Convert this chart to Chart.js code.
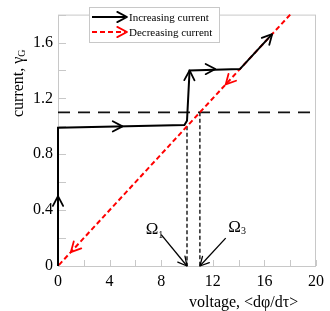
<!DOCTYPE html>
<html>
<head>
<meta charset="utf-8">
<style>
html,body{margin:0;padding:0;background:#fff;}
canvas{display:block;}
</style>
<script src="https://cdn.jsdelivr.net/npm/chart.js@4.4.1/dist/chart.umd.min.js"></script>
</head>
<body>
<canvas id="c" width="330" height="311"></canvas>
<script>
// ---- data ----
const incX = [0, 0, 9.8, 10.0, 10.2, 14.1, 16.6];
const incY = [0, 0.99, 1.01, 1.04, 1.40, 1.41, 1.66];
const decX = [18, 0];
const decY = [1.8, 0];
const thresholdX = [0, 20];
const thresholdY = [1.1, 1.1];
const omega1X = [10, 10];
const omega1Y = [1.0, 0];
const omega3X = [11, 11];
const omega3Y = [1.1, 0];
// arrowheads: tail point -> tip point
const incArrowFromX = [0, 4, 10.18, 11, 16.0];
const incArrowFromY = [0.4, 1.0, 1.3, 1.41, 1.6];
const incArrowToX = [0, 5, 10.2, 12.2, 16.6];
const incArrowToY = [0.5, 1.0, 1.40, 1.41, 1.66];
const decArrowFromX = [14, 2];
const decArrowFromY = [1.4, 0.2];
const decArrowToX = [13, 1];
const decArrowToY = [1.3, 0.1];
// Omega annotation labels and pointers
const omegaLabels = ['1', '3'];
const omegaLabelX = [6.8, 13.2];
const omegaLabelY = [0.23, 0.245];
const omegaPtrFromX = [8.0, 13.0];
const omegaPtrFromY = [0.225, 0.2];
const omegaPtrToX = [10, 11];
const omegaPtrToY = [0, 0];
const xTicks = [0, 4, 8, 12, 16, 20];
const yTicks = [0, 0.4, 0.8, 1.2, 1.6];
const legendLabels = ['Increasing current', 'Decreasing current'];

const pts = (xs, ys) => xs.map((x, i) => ({x: x, y: ys[i]}));
const SERIF = '"Liberation Serif", "Times New Roman", serif';

function chevron(ctx, x0, y0, x1, y1, len, color, lw) {
  const a = Math.atan2(y1 - y0, x1 - x0);
  const h = Math.PI / 6.5;
  ctx.save();
  ctx.setLineDash([]);
  ctx.strokeStyle = color;
  ctx.lineWidth = lw;
  ctx.lineCap = 'round';
  ctx.lineJoin = 'round';
  ctx.beginPath();
  ctx.moveTo(x1 - len * Math.cos(a - h), y1 - len * Math.sin(a - h));
  ctx.lineTo(x1, y1);
  ctx.lineTo(x1 - len * Math.cos(a + h), y1 - len * Math.sin(a + h));
  ctx.stroke();
  ctx.restore();
}

const framePlugin = {
  id: 'frame',
  beforeDatasetsDraw(chart) {
    const {ctx, chartArea: ca, scales} = chart;
    ctx.save();
    ctx.strokeStyle = '#c8c8c8';
    ctx.lineWidth = 1;
    ctx.strokeRect(ca.left + 0.5, ca.top + 0.5, ca.right - ca.left - 1, ca.bottom - ca.top);
    ctx.beginPath();
    scales.x.ticks.forEach(t => {
      const px = Math.round(scales.x.getPixelForValue(t.value)) + 0.5;
      ctx.moveTo(px, ca.bottom);
      ctx.lineTo(px, ca.bottom - 6);
    });
    scales.y.ticks.forEach(t => {
      const py = Math.round(scales.y.getPixelForValue(t.value)) + 0.5;
      ctx.moveTo(ca.left, py);
      ctx.lineTo(ca.left + 8, py);
    });
    ctx.stroke();
    ctx.restore();
  },
  afterDatasetsDraw(chart) {
    const {ctx, scales} = chart;
    const X = v => scales.x.getPixelForValue(v);
    const Y = v => scales.y.getPixelForValue(v);
    incArrowToX.forEach((_, i) => chevron(ctx, X(incArrowFromX[i]), Y(incArrowFromY[i]), X(incArrowToX[i]), Y(incArrowToY[i]), 11, '#000', 1.8));
    decArrowToX.forEach((_, i) => chevron(ctx, X(decArrowFromX[i]), Y(decArrowFromY[i]), X(decArrowToX[i]), Y(decArrowToY[i]), 11, '#ff0000', 1.8));
    // omega pointers
    omegaPtrToX.forEach((_, i) => {
      const x0 = X(omegaPtrFromX[i]), y0 = Y(omegaPtrFromY[i]);
      const x1 = X(omegaPtrToX[i]), y1 = Y(omegaPtrToY[i]);
      ctx.save();
      ctx.strokeStyle = '#000';
      ctx.lineWidth = 1.3;
      ctx.beginPath();
      ctx.moveTo(x0, y0);
      ctx.lineTo(x1, y1);
      ctx.stroke();
      ctx.restore();
      chevron(ctx, x0, y0, x1, y1, 10, '#000', 1.3);
    });
    // omega labels
    ctx.save();
    ctx.fillStyle = '#000';
    ctx.textBaseline = 'alphabetic';
    omegaLabels.forEach((s, i) => {
      const x = X(omegaLabelX[i]), y = Y(omegaLabelY[i]);
      ctx.font = '17px ' + SERIF;
      ctx.fillText('\u03A9', x, y);
      const w = ctx.measureText('\u03A9').width;
      ctx.font = '10px ' + SERIF;
      ctx.fillText(s, x + w, y + (i === 0 ? 4 : 2));
    });
    ctx.restore();
    // legend
    ctx.save();
    const lx = 89, ly = 7, lw = 130, lh = 35;
    ctx.fillStyle = '#fff';
    ctx.fillRect(lx, ly, lw, lh);
    ctx.strokeStyle = '#c8c8c8';
    ctx.lineWidth = 1;
    ctx.strokeRect(lx + 0.5, ly + 0.5, lw, lh);
    const rows = [{y: 17, color: '#000', dash: []}, {y: 32, color: '#ff0000', dash: [5, 3]}];
    rows.forEach((r, i) => {
      ctx.save();
      ctx.strokeStyle = r.color;
      ctx.lineWidth = 2;
      ctx.setLineDash(r.dash);
      ctx.beginPath();
      ctx.moveTo(92, r.y);
      ctx.lineTo(125, r.y);
      ctx.stroke();
      ctx.restore();
      chevron(ctx, 115, r.y, 127, r.y, 11, r.color, 1.8);
      ctx.fillStyle = '#000';
      ctx.font = '11px ' + SERIF;
      ctx.textBaseline = 'middle';
      ctx.fillText(legendLabels[i], 129, r.y + 1);
    });
    ctx.restore();
  },
  afterDraw(chart) {
    const {ctx} = chart;
    ctx.save();
    ctx.fillStyle = '#000';
    ctx.font = '16px ' + SERIF;
    ctx.textBaseline = 'alphabetic';
    ctx.textAlign = 'left';
    ctx.fillText('voltage, <d\u03C6/d\u03C4>', 189, 307);
    // y title rotated with subscript
    ctx.translate(23, 117);
    ctx.rotate(-Math.PI / 2);
    ctx.fillText('current, \u03B3', 0, 0);
    const w = ctx.measureText('current, \u03B3').width;
    ctx.font = '10px ' + SERIF;
    ctx.fillText('G', w, 2);
    ctx.restore();
  }
};

new Chart(document.getElementById('c'), {
  type: 'scatter',
  data: {
    datasets: [
      {data: pts(incX, incY), showLine: true, borderColor: '#000', borderWidth: 2, pointRadius: 0, fill: false, tension: 0, clip: false},
      {data: pts(decX, decY), showLine: true, borderColor: '#ff0000', borderWidth: 2, borderDash: [5, 3], pointRadius: 0, fill: false, clip: false},
      {data: pts(thresholdX, thresholdY), showLine: true, borderColor: '#111', borderWidth: 1.6, borderDash: [12, 8], pointRadius: 0, fill: false, clip: false},
      {data: pts(omega1X, omega1Y), showLine: true, borderColor: '#000', borderWidth: 1.3, borderDash: [4, 2.5], pointRadius: 0, fill: false, clip: false},
      {data: pts(omega3X, omega3Y), showLine: true, borderColor: '#000', borderWidth: 1.3, borderDash: [4, 2.5], pointRadius: 0, fill: false, clip: false}
    ]
  },
  options: {
    responsive: false,
    animation: false,
    events: [],
    layout: {padding: {top: 2, right: 9, left: 0, bottom: 0}},
    plugins: {legend: {display: false}, tooltip: {enabled: false}},
    scales: {
      x: {
        type: 'linear', min: 0, max: 20,
        afterFit: s => { s.height = 45; },
        ticks: {
          stepSize: 2, padding: 6, color: '#000', maxRotation: 0, autoSkip: false,
          font: {family: SERIF, size: 16},
          callback: v => xTicks.includes(Math.round(v)) && Math.abs(v - Math.round(v)) < 1e-6 ? String(Math.round(v)) : ''
        },
        grid: {display: true, drawOnChartArea: false, drawTicks: false, color: 'rgba(0,0,0,0)'},
        border: {display: false}
      },
      y: {
        type: 'linear', min: 0, max: 1.8,
        afterFit: s => { s.width = 58; },
        ticks: {
          stepSize: 0.2, padding: 5, color: '#000', autoSkip: false,
          font: {family: SERIF, size: 16},
          callback: v => {
            const r = Math.round(v * 10) / 10;
            return yTicks.some(t => Math.abs(t - r) < 1e-6) ? String(r) : '';
          }
        },
        grid: {display: true, drawOnChartArea: false, drawTicks: false, color: 'rgba(0,0,0,0)'},
        border: {display: false}
      }
    }
  },
  plugins: [framePlugin]
});
</script>
</body>
</html>
